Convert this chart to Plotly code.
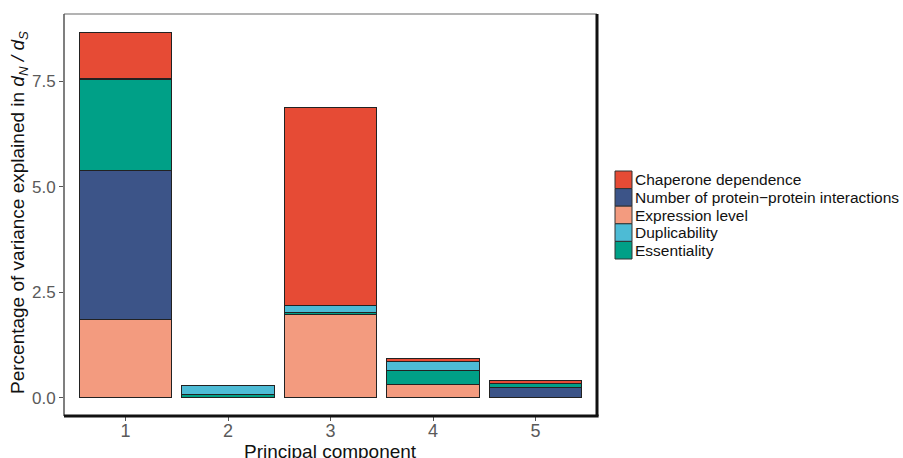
import plotly.graph_objects as go

# Principal components on the x axis
components = ["1", "2", "3", "4", "5"]

# Percentage of dN/dS variance explained, per gene property and component
expression_level = [1.86, 0.0, 1.98, 0.31, 0.0]
ppi_number = [3.52, 0.0, 0.0, 0.0, 0.25]
essentiality = [2.17, 0.08, 0.05, 0.34, 0.09]
duplicability = [0.02, 0.20, 0.15, 0.21, 0.0]
chaperone_dependence = [1.09, 0.0, 4.70, 0.06, 0.06]

y_tick_values = [0, 2.5, 5, 7.5]
y_tick_labels = ["0.0", "2.5", "5.0", "7.5"]

# Stacked from bottom to top
series = [
    ("Expression level", expression_level, "#F39B7F"),
    ("Number of protein\u2212protein interactions", ppi_number, "#3C5488"),
    ("Essentiality", essentiality, "#00A087"),
    ("Duplicability", duplicability, "#4DBBD5"),
    ("Chaperone dependence", chaperone_dependence, "#E64B35"),
]
# Order of the entries in the key, top to bottom
legend_order = [
    "Chaperone dependence",
    "Number of protein\u2212protein interactions",
    "Expression level",
    "Duplicability",
    "Essentiality",
]
colors = {name: color for name, _, color in series}

W, H = 903, 458
L, R, T, B = 64, 306, 14, 42
PW, PH = W - L - R, H - T - B


def px_x(x):
    return (x - L) / PW


def px_y(y):
    return (H - B - y) / PH


fig = go.Figure()
for name, values, color in series:
    fig.add_trace(go.Bar(
        x=components, y=values, name=name, showlegend=False,
        marker=dict(color=color, line=dict(color="#222222", width=1)),
        width=0.9,
    ))

total_max = max(sum(v) for v in zip(*[s[1] for s in series]))
pad = total_max * 0.05

shapes = [
    # light panel frame with a heavier shadow edge on the right and bottom
    dict(type="line", xref="paper", yref="paper", x0=0, x1=1, y0=1, y1=1,
         line=dict(color="#9a9a9a", width=1.5)),
    dict(type="line", xref="paper", yref="paper", x0=0, x1=0, y0=0, y1=1,
         line=dict(color="#555555", width=1.5)),
    dict(type="line", xref="paper", yref="paper", x0=0, x1=1.003, y0=0, y1=0,
         line=dict(color="#111111", width=3)),
    dict(type="line", xref="paper", yref="paper", x0=1, x1=1, y0=0, y1=1,
         line=dict(color="#111111", width=3)),
]

y_title = ("Percentage of variance explained in "
           "<i>d</i><sub><i>N</i></sub><i> / d</i><sub><i>S</i></sub>")

annotations = [
    dict(text="Principal component", xref="paper", yref="paper",
         x=0.5, y=px_y(451), xanchor="center", yanchor="middle", showarrow=False,
         font=dict(size=19, color="#111111")),
    dict(text=y_title, xref="paper", yref="paper", x=px_x(19), y=px_y(213),
         textangle=-90, xanchor="center", yanchor="middle", showarrow=False,
         font=dict(size=19, color="#111111")),
]

# Key: filled squares stacked edge to edge with labels at their right
key_top, key_h, key_x0, key_x1 = 171, 17.6, 615, 632
for i, name in enumerate(legend_order):
    y0 = key_top + i * key_h
    shapes.append(dict(
        type="rect", xref="paper", yref="paper",
        x0=px_x(key_x0), x1=px_x(key_x1), y0=px_y(y0 + key_h), y1=px_y(y0),
        fillcolor=colors[name], line=dict(color="#333333", width=1),
    ))
    annotations.append(dict(
        text=name, xref="paper", yref="paper",
        x=px_x(key_x1 + 1), y=px_y(y0 + key_h / 2),
        xanchor="left", yanchor="middle", showarrow=False,
        font=dict(size=15.5, color="#111111"),
    ))

fig.update_layout(
    barmode="stack",
    width=W, height=H,
    margin=dict(l=L, r=R, t=T, b=B),
    paper_bgcolor="white", plot_bgcolor="white",
    font=dict(family="Liberation Sans, Arial, sans-serif", color="#222222"),
    showlegend=False,
    xaxis=dict(
        type="category", range=[-0.6, 4.6],
        showgrid=False, zeroline=False, showline=False,
        ticks="outside", ticklen=4, tickcolor="#555555",
        tickfont=dict(size=18, color="#5a5a5a"),
        ticklabelstandoff=-6,
    ),
    yaxis=dict(
        range=[-pad, total_max + pad],
        tickvals=y_tick_values, ticktext=y_tick_labels,
        showgrid=False, zeroline=False, showline=False,
        ticks="outside", ticklen=4, tickcolor="#555555",
        tickfont=dict(size=17, color="#5a5a5a"),
    ),
    shapes=shapes,
    annotations=annotations,
)

fig.write_html("out.html")
